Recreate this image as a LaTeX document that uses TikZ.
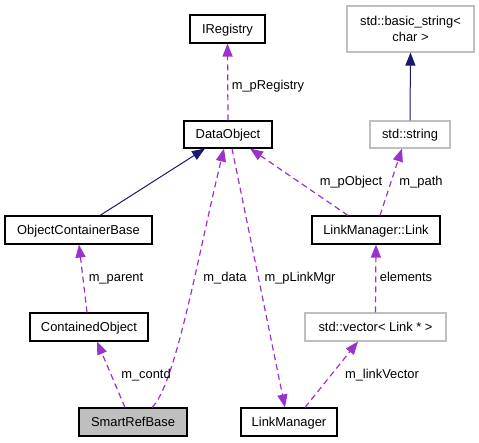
\documentclass[tikz,border=0pt]{standalone}
\usepackage{fontspec}
\setmainfont{Liberation Sans}
\usetikzlibrary{arrows.meta}
\definecolor{purp}{HTML}{9A32CD}
\definecolor{navy}{HTML}{191970}
\definecolor{grayb}{HTML}{BFBFBF}
\tikzset{
  cls/.style={draw=black, line width=1.1pt, rectangle, inner sep=0pt, font=\fontsize{12.9}{16}\selectfont, text height=9pt, text depth=0.5pt},
  ext/.style={cls, draw=grayb},
  uses/.style={draw=purp, line width=1.2pt, dash pattern=on 6pt off 4pt, -{Triangle[length=13pt,width=10pt]}, color=purp},
  inh/.style={draw=navy, line width=1pt, -{Triangle[length=13pt,width=10pt]}, color=navy},
  lbl/.style={font=\fontsize{12.9}{16}\selectfont, anchor=base, inner sep=0pt}
}
\begin{document}
\begin{tikzpicture}[x=1pt,y=-1pt]
\useasboundingbox (0,0) rectangle (479,443);
\node[cls, minimum width=75pt, minimum height=28pt] (IRegistry) at (227.5,29) {IRegistry};
\node[ext, minimum width=127pt, minimum height=46pt, align=center, text height=, text depth=] (basic) at (410.5,29) {std::basic\_string<\\char >};
\node[cls, minimum width=88pt, minimum height=27pt] (DataObject) at (228,134.5) {DataObject};
\node[ext, minimum width=80pt, minimum height=27pt] (string) at (410,134.5) {std::string};
\node[cls, minimum width=147pt, minimum height=28pt] (OCB) at (78.5,230) {ObjectContainerBase};
\node[cls, minimum width=128pt, minimum height=28pt] (Link) at (376,230) {LinkManager::Link};
\node[cls, minimum width=118pt, minimum height=28pt] (Contained) at (89,327) {ContainedObject};
\node[ext, minimum width=141pt, minimum height=28pt] (vector) at (375.5,327) {std::vector< Link * >};
\node[cls, fill=grayb, minimum width=108pt, minimum height=28pt] (SmartRef) at (133,422) {SmartRefBase};
\node[cls, minimum width=96pt, minimum height=28pt] (LinkManager) at (289,422) {LinkManager};

\draw[uses] (DataObject.north) -- (IRegistry.south);
\draw[inh] (string.north) -- (basic.south);
\draw[inh] ([xshift=21.5pt]OCB.north) -- ([xshift=-23pt]DataObject.south);
\draw[uses] ([xshift=19pt]SmartRef.north) .. controls (176,384) and (198,255) .. ([xshift=-4pt]DataObject.south);
\draw[uses] ([xshift=4pt]DataObject.south) -- ([xshift=-4pt]LinkManager.north);
\draw[uses] ([xshift=-28pt]Link.north) -- ([xshift=22pt]DataObject.south);
\draw[uses] ([xshift=4pt]Link.north) -- ([xshift=-8pt]string.south);
\draw[uses] ([xshift=-2pt]Contained.north) -- ([xshift=0.5pt]OCB.south);
\draw[uses] (vector.north) -- (Link.south);
\draw[uses] ([xshift=-8pt]SmartRef.north) -- ([xshift=8pt]Contained.south);
\draw[uses] ([xshift=16pt]LinkManager.north) -- ([xshift=-17.5pt]vector.south);

\node[lbl] (l1) at (268,90) {m\_pRegistry};
\node[lbl] (l2) at (351,186) {m\_pObject};
\node[lbl] (l3) at (421,186) {m\_path};
\node[lbl] (l4) at (116,282) {m\_parent};
\node[lbl] (l5) at (225,282) {m\_data};
\node[lbl] (l6) at (300,282) {m\_pLinkMgr};
\node[lbl] (l7) at (406,282) {elements};
\node[lbl] (l8) at (146,378) {m\_contd};
\node[lbl] (l9) at (382,378) {m\_linkVector};
\end{tikzpicture}
\end{document}
